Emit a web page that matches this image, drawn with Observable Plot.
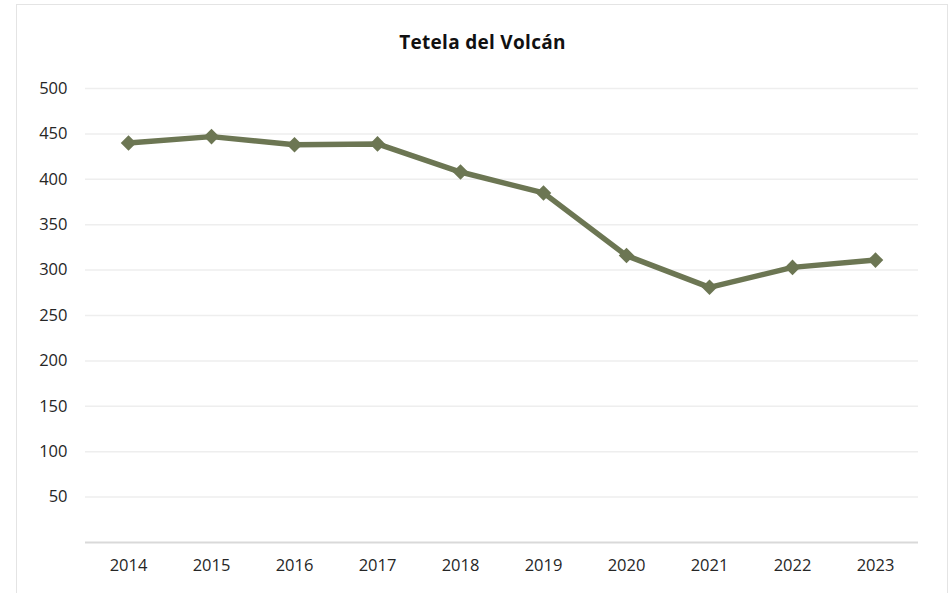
<!DOCTYPE html>
<html>
<head>
<meta charset="utf-8">
<script src="https://cdn.jsdelivr.net/npm/d3@7"></script>
<script src="https://cdn.jsdelivr.net/npm/@observablehq/plot@0.6"></script>
<style>
  html, body { margin: 0; padding: 0; background: #ffffff; }
  #wrap { position: relative; width: 951px; height: 593px; overflow: hidden; background: #fff; }
  #frame { position: absolute; left: 16px; top: 4px; width: 932px; height: 620px; border: 1px solid #e4e4e4; box-sizing: border-box; }
  #title { position: absolute; left: 16px; width: 933px; top: 29px; text-align: center; font-family: "Open Sans", sans-serif; font-weight: 700; font-size: 19px; letter-spacing: 0.3px; color: #111; }
  #chart { position: absolute; left: 0; top: 0; }
</style>
</head>
<body>
<div id="wrap">
  <div id="frame"></div>
  <div id="chart"></div>
  <div id="title">Tetela del Volcán</div>
</div>
<script>
const years = ["2014", "2015", "2016", "2017", "2018", "2019", "2020", "2021", "2022", "2023"];
const values = [440, 447, 438, 439, 408, 385, 316, 281, 303, 311];
const yTicks = [50, 100, 150, 200, 250, 300, 350, 400, 450, 500];

const data = years.map((year, i) => ({ year, value: values[i] }));

const chart = Plot.plot({
  width: 951,
  height: 593,
  marginTop: 88,
  marginBottom: 51,
  marginLeft: 85,
  marginRight: 33,
  style: {
    fontFamily: "'Open Sans', sans-serif",
    fontSize: "16.5px",
    color: "#262626",
    background: "transparent",
    overflow: "visible"
  },
  x: {
    type: "point",
    domain: years,
    padding: 0.5,
    label: null,
    tickSize: 0,
    tickPadding: 17
  },
  y: {
    domain: [0, 500],
    ticks: yTicks,
    label: null,
    tickSize: 0,
    tickPadding: 18
  },
  marks: [
    Plot.ruleY(yTicks, { stroke: "#eeeeee", strokeWidth: 1.5 }),
    Plot.ruleY([0], { stroke: "#d9d9d9", strokeWidth: 2 }),
    Plot.line(data, { x: "year", y: "value", stroke: "#6c7653", strokeWidth: 5.5, strokeLinejoin: "round" }),
    Plot.dot(data, { x: "year", y: "value", symbol: "square", r: 6.2, rotate: 45, fill: "#6c7653", stroke: "none" })
  ]
});
document.getElementById("chart").appendChild(chart);
</script>
</body>
</html>
